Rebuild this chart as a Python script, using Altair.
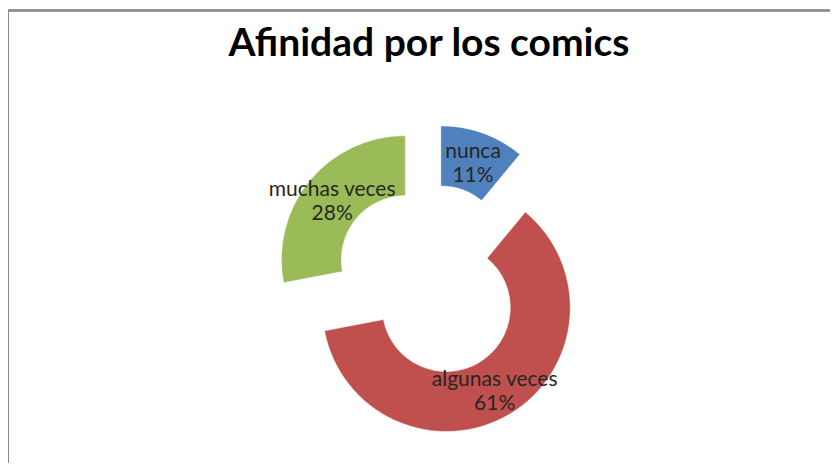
import math
import altair as alt
import pandas as pd

# ---- data ----
categories = ["nunca", "algunas veces", "muchas veces"]
percentages = [11, 61, 28]
colors = ["#4F81BD", "#C0504D", "#9BBB59"]

# ---- layout constants (pixels inside the plot area) ----
W, H = 822, 375
PAD_TOP = 80
CX, CY = 422, 192      # centre of the (unexploded) doughnut
EXPLODE = 32           # explosion distance of each slice
R_OUT, R_IN = 124, 64
LABEL_R = 95

df = pd.DataFrame({"cat": categories, "val": percentages, "order": range(len(categories))})

base = (
    alt.Chart(df)
    .transform_window(cum="sum(val)", sort=[alt.SortField("order")])
    .transform_joinaggregate(total="sum(val)")
    .transform_calculate(
        start="(datum.cum - datum.val) / datum.total * 100",
        end="datum.cum / datum.total * 100",
    )
    .transform_calculate(mid="(datum.start + datum.end) / 200 * 2 * PI")
    .transform_calculate(
        cx=f"{CX} + {EXPLODE} * sin(datum.mid)",
        cy=f"{CY} - {EXPLODE} * cos(datum.mid)",
    )
    .transform_calculate(
        lx=f"datum.cx + {LABEL_R} * sin(datum.mid)",
        ly=f"datum.cy - {LABEL_R} * cos(datum.mid)",
        label="datum.cat + '\\n' + datum.val + '%'",
    )
)

arcs = base.mark_arc(radius=R_OUT, radius2=R_IN, stroke="white", strokeWidth=0.5).encode(
    x=alt.X("cx:Q", scale=None),
    y=alt.Y("cy:Q", scale=None),
    theta=alt.Theta("start:Q", scale=alt.Scale(domain=[0, 100], range=[0, 2 * math.pi])),
    theta2="end:Q",
    color=alt.Color("cat:N", scale=alt.Scale(domain=categories, range=colors), legend=None),
)

labels = base.mark_text(
    font="Lato", fontSize=21, color="#262626", lineBreak="\n", lineHeight=24,
    align="center", baseline="middle", dy=-9,
).encode(
    x=alt.X("lx:Q", scale=None),
    y=alt.Y("ly:Q", scale=None),
    text="label:N",
)

border_top = alt.Chart(df).mark_rule(color="#8a8a8a", strokeWidth=2).encode(
    x=alt.value(0), x2=alt.value(W), y=alt.value(-77.5)
)
border_left = alt.Chart(df).mark_rule(color="#8a8a8a", strokeWidth=2).encode(
    x=alt.value(0), y=alt.value(-78), y2=alt.value(H)
)

chart = (
    alt.layer(border_top, border_left, arcs, labels)
    .properties(
        width=W,
        height=H,
        padding={"top": PAD_TOP, "left": 0, "right": 0, "bottom": 0},
        autosize="none",
        title=alt.Title(
            "Afinidad por los comics",
            font="Lato", fontSize=39, fontWeight="bold", color="#000000",
            anchor="middle", baseline="alphabetic", offset=-86, dx=10,
        ),
    )
    .configure_view(stroke=None)
)

chart.save("out.html", embed_options={"renderer": "svg", "actions": False})
